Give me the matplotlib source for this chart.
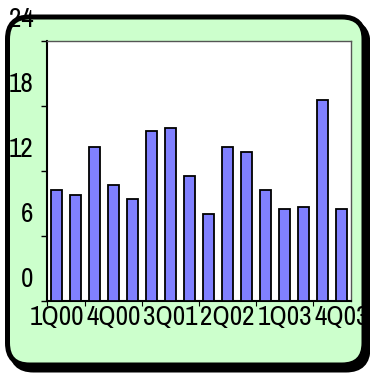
import matplotlib
matplotlib.use("Agg")
import matplotlib.pyplot as plt
from matplotlib import font_manager
from matplotlib.patches import FancyBboxPatch
from matplotlib.transforms import ScaledTranslation, IdentityTransform

# Quarterly values
quarters = ["1Q00", "2Q00", "3Q00", "4Q00", "1Q01", "2Q01", "3Q01", "4Q01",
            "1Q02", "2Q02", "3Q02", "4Q02", "1Q03", "2Q03", "3Q03", "4Q03"]
values = [10.25, 9.8, 14.2, 10.7, 9.4, 15.7, 16.0, 11.5,
          8.0, 14.2, 13.75, 10.25, 8.5, 8.7, 18.6, 8.5]
y_ticks = [0, 6, 12, 18, 24]
label_every = 3

# Narrow sans-serif for the labels, with a plain sans fallback
names = {f.name for f in font_manager.fontManager.ttflist}
family = next((n for n in ("Liberation Sans Narrow", "Archivo Narrow", "Roboto Condensed",
                           "PT Sans Narrow", "Liberation Sans") if n in names), "DejaVu Sans")
plt.rcParams["font.family"] = [family, "DejaVu Sans"]
label_size = 19.5

W, H, DPI = 370, 374, 100
fig = plt.figure(figsize=(W / DPI, H / DPI), dpi=DPI, facecolor="white")


def frac(x0, y0, x1, y1):
    """Pixel box (top-left origin) to figure fractions."""
    return [x0 / W, 1 - y1 / H, (x1 - x0) / W, (y1 - y0) / H]


# Shadow and rounded green panel, in display pixels (bottom-left origin)
r = 22
for dx, dy, fc in [(4, 5, "black"), (0, 0, "#CCFFCC")]:
    x0, y0, x1, y1 = 7.5 + dx, 17 + dy, 364 + dx, 365 + dy
    box = FancyBboxPatch((x0, H - y1), x1 - x0, y1 - y0,
                         boxstyle=f"round,pad=0,rounding_size={r}",
                         transform=IdentityTransform(),
                         facecolor=fc, edgecolor="black", linewidth=3.6,
                         zorder=-5)
    fig.patches.append(box)

ax = fig.add_axes(frac(47, 41, 351, 301))
ax.set_facecolor("white")
ax.set_zorder(1)

xs = list(range(len(values)))
ax.bar(xs, values, width=0.63, color="#8080FF", edgecolor="black", linewidth=1.3, zorder=3)

ax.set_xlim(-0.5, len(values) - 0.5)
ax.set_ylim(y_ticks[0], y_ticks[-1])

ax.set_yticks(y_ticks)
ax.set_yticklabels([str(v) for v in y_ticks])
ax.tick_params(axis="y", length=4.3, width=1, pad=5.5, labelsize=label_size, colors="black")
for lab in ax.get_yticklabels():
    lab.set_transform(lab.get_transform() + ScaledTranslation(0, 0.24, fig.dpi_scale_trans))

ax.set_xticks(xs[::label_every])
ax.set_xticklabels(quarters[::label_every])
ax.set_xticks([-0.5] + [i + 1.5 for i in xs[::label_every][:-1]], minor=True)
ax.tick_params(axis="x", which="major", length=0, pad=3.0, labelsize=label_size)
ax.tick_params(axis="x", which="minor", length=3.5, width=0.8)

for s in ("left", "bottom"):
    ax.spines[s].set_color("black")
    ax.spines[s].set_linewidth(1.5)
for s in ("top", "right"):
    ax.spines[s].set_color("#555555")
    ax.spines[s].set_linewidth(1.0)

fig.savefig("out.png", dpi=DPI, facecolor="white")
